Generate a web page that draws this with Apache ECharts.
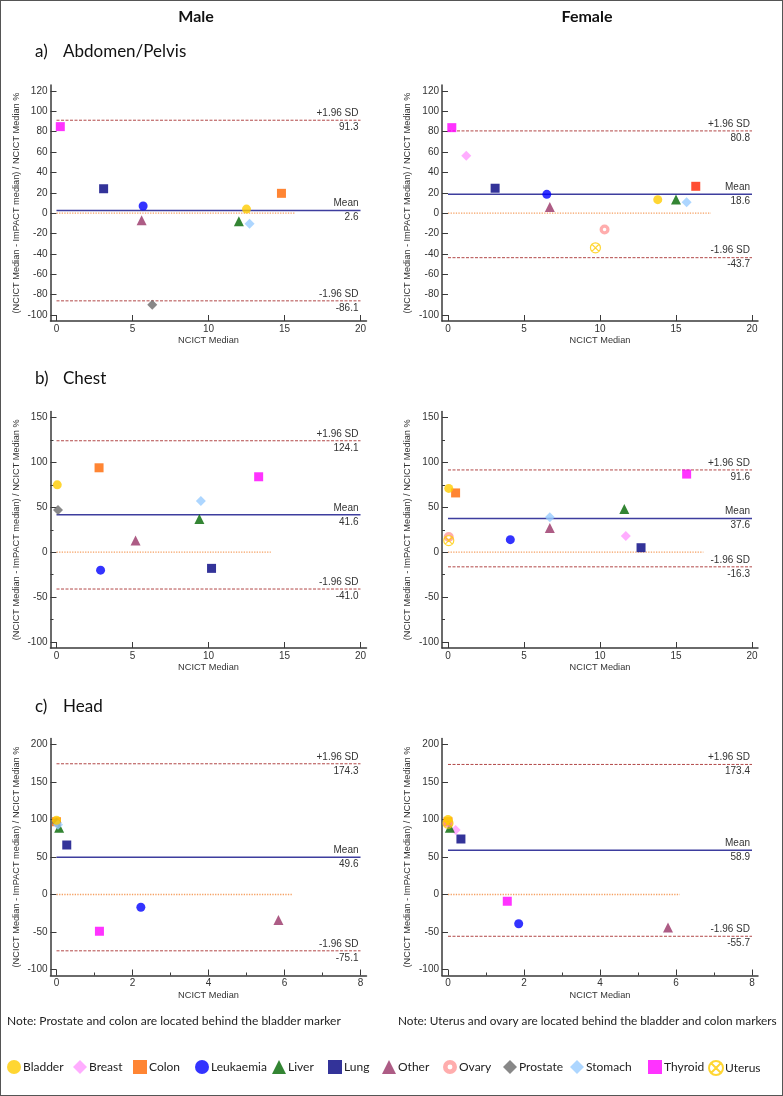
<!DOCTYPE html>
<html><head><meta charset="utf-8">
<script src="https://cdn.jsdelivr.net/npm/echarts@6/dist/echarts.min.js"></script>
<style>
html,body{margin:0;padding:0;background:#fff}
#wrap{position:relative;width:783px;height:1096px}
#c{position:absolute;left:0;top:0;width:783px;height:1096px}
#frame{position:absolute;left:0;top:0;width:783px;height:1096px;box-sizing:border-box;border:1px solid #555;pointer-events:none}
</style>
</head><body><div id="wrap"><div id="c"></div><div id="frame"></div></div>
<script>
// ---------- DATA ----------
const categories = ['Bladder','Breast','Colon','Leukaemia','Liver','Lung','Other','Ovary','Prostate','Stomach','Thyroid','Uterus'];

// Male Abdomen/Pelvis
const maleAbdX = [12.5, null, 14.8, 5.7, 12.0, 3.1, 5.6, null, 6.3, 12.7, 0.25, null];
const maleAbdY = [4, null, 19.5, 7, -8, 24, -7, null, -90, -10.5, 85, null];
// Female Abdomen/Pelvis
const femAbdX = [13.8, 1.2, 16.3, 6.5, 15.0, 3.1, 6.7, 10.3, null, 15.7, 0.25, 9.7];
const femAbdY = [13.3, 56.5, 26.4, 18.5, 13.5, 24.5, 6, -16, null, 10.7, 84, -34];
// Male Chest
const maleChestX = [0.05, null, 2.8, 2.9, 9.4, 10.2, 5.2, null, 0.1, 9.5, 13.3, null];
const maleChestY = [75, null, 94, -20, 37, -18, 13, null, 47, 57, 84, null];
// Female Chest
const femChestX = [0.05, 11.7, 0.5, 4.1, 11.6, 12.7, 6.7, 0.05, null, 6.7, 15.7, 0.05];
const femChestY = [71, 18, 66, 14, 48, 5, 27, 17, null, 39, 87, 13];
// Male Head
const maleHeadX = [0.0, null, 0.0, 2.22, 0.07, 0.27, 5.84, null, 0.0, 0.04, 1.13, null];
const maleHeadY = [99, null, 97, -17, 89, 66, -34, null, 96, 93, -49, null];
// Female Head
const femHeadX = [0.0, 0.2, 0.0, 1.86, 0.05, 0.34, 5.79, 0.0, null, null, 1.56, 0.0];
const femHeadY = [100, 86, 97, -39, 89, 74, -44, 96, null, null, -9, 95];

// Bland-Altman statistics per panel (male abd, female abd, male chest, female chest, male head, female head)
const upperSD  = [91.3, 80.8, 124.1, 91.6, 174.3, 173.4];
const meanDiff = [2.6, 18.6, 41.6, 37.6, 49.6, 58.9];
const lowerSD  = [-86.1, -43.7, -41.0, -16.3, -75.1, -55.7];
const zeroLineEnd = [15.7, 17.3, 14.1, 16.8, 6.2, 6.1];

// Axis ranges / ticks
const yMin = [-100, -100, -100, -100, -100, -100];
const yMax = [120, 120, 150, 150, 200, 200];
const yStep = [20, 20, 50, 50, 50, 50];
const xMax = [20, 20, 20, 20, 8, 8];
const xStep = [5, 5, 5, 5, 2, 2];

// ---------- STYLE / LAYOUT ----------
const panelX = [maleAbdX, femAbdX, maleChestX, femChestX, maleHeadX, femHeadX];
const panelY = [maleAbdY, femAbdY, maleChestY, femChestY, maleHeadY, femHeadY];
const yTitles = [
  '(NCICT Median - ImPACT median) / NCICT Median %',
  '(NCICT Median - ImPACT Median) / NCICT Median %',
  '(NCICT Median - ImPACT median) / NCICT Median %',
  '(NCICT Median - ImPACT Median) / NCICT Median %',
  '(NCICT Median - ImPACT median) / NCICT Median %',
  '(NCICT Median - ImPACT Median) / NCICT Median %'
];
const colLeft = [56.5, 448];
const plotW = 304;
const rowTop = [91, 417.5, 744.5];
const plotH = [224, 224.5, 225];
const OFF = 6;

const uterusPath = 'path://M0,10A10,10,0,1,1,20,10A10,10,0,1,1,0,10Z M2.93,2.93L17.07,17.07 M17.07,2.93L2.93,17.07';
const ovaryPath = 'path://M10,0A10,10,0,1,1,10,20A10,10,0,1,1,10,0Z M10,6.5A3.5,3.5,0,1,0,10,13.5A3.5,3.5,0,1,0,10,6.5Z';
const catColor = ['#FFCC00','#FF99FF','#FF6600','#0000FF','#006600','#000080','#993366','#FF9999','#6A6A6A','#99CCFF','#FF00FF','#FFCC00'];
const catSymbol = ['circle','diamond','rect','circle','triangle','rect','triangle',ovaryPath,'diamond','diamond','rect',uterusPath];
const catSize = [9, 10, 9, 9, 10, 9, 10, 10, 10, 10, 9, 10];
const colorOverride = {1: {2: '#FF2200'}};

const AXC = '#3a3a3a';
const FONT = 'Liberation Sans, Arial, sans-serif';
const CAL = 'Lato, "Open Sans", sans-serif';

const grids = [], xAxes = [], yAxes = [], series = [];

for (let p = 0; p < 6; p++) {
  const col = p % 2, row = Math.floor(p / 2);
  const L = colLeft[col], T = rowTop[row], H = plotH[row];
  // frame grid (axis lines only)
  grids.push({left: L - OFF, top: T - OFF, width: plotW + 2 * OFF, height: H + 2 * OFF, containLabel: false});
  xAxes.push({gridIndex: 2 * p, type: 'value', min: 0, max: 1, axisLine: {show: true, onZero: false, lineStyle: {color: AXC, width: 1.5}},
    axisTick: {show: false}, axisLabel: {show: false}, splitLine: {show: false}});
  yAxes.push({gridIndex: 2 * p, type: 'value', min: 0, max: 1, axisLine: {show: true, onZero: false, lineStyle: {color: AXC, width: 1.5}},
    axisTick: {show: false}, axisLabel: {show: false}, splitLine: {show: false}});
  // data grid
  grids.push({left: L, top: T, width: plotW, height: H, containLabel: false});
  const headX = xMax[p] === 8;
  const chestY = yStep[p] === 50 && yMax[p] === 150;
  const xi = 2 * p + 1;
  xAxes.push({gridIndex: xi, type: 'value', min: 0, max: xMax[p], interval: xStep[p], offset: OFF,
    axisLine: {show: false, onZero: false}, axisTick: {show: true, inside: true, length: 6, lineStyle: {color: AXC, width: 1}},
    minorTick: {show: headX, splitNumber: 2, length: 3, lineStyle: {color: AXC, width: 1}},
    axisLabel: {margin: 3, fontSize: 10, color: '#333', fontFamily: FONT},
    splitLine: {show: false},
    name: 'NCICT Median', nameLocation: 'middle', nameGap: 15,
    nameTextStyle: {fontSize: 9.2, color: '#333', fontFamily: FONT}});
  yAxes.push({gridIndex: xi, type: 'value', min: yMin[p], max: yMax[p], interval: yStep[p], offset: OFF,
    axisLine: {show: false, onZero: false}, axisTick: {show: true, inside: true, length: 6, lineStyle: {color: AXC, width: 1}},
    minorTick: {show: chestY, splitNumber: 2, length: 3, lineStyle: {color: AXC, width: 1}},
    axisLabel: {margin: 3, fontSize: 10, color: '#333', fontFamily: FONT},
    splitLine: {show: false},
    name: yTitles[p], nameLocation: 'middle', nameGap: 30, nameRotate: 90,
    nameTextStyle: {fontSize: 9.2, color: '#333', fontFamily: FONT}});

  const lbl = (pos, txt) => ({show: true, position: pos, distance: 2, fontSize: 10, color: '#333', fontFamily: FONT, formatter: txt});
  const hidden = () => ({color: 'rgba(255,255,255,0)', width: 0});
  const hLine = (v, x1, style, z) => ({
    type: 'line', xAxisIndex: xi, yAxisIndex: xi, z: z, silent: true, symbol: 'none',
    data: [[0, v], [x1, v]], lineStyle: style, itemStyle: {color: style.color}
  });
  // zero reference line
  series.push(hLine(0, zeroLineEnd[p], {color: '#F5A062', width: 1.3, type: [1.3, 1.3]}, 2));
  // limits of agreement and mean
  series.push(hLine(upperSD[p], xMax[p], {color: '#B24848', width: 1, type: [3, 1.5]}, 2));
  series.push(hLine(lowerSD[p], xMax[p], {color: '#B24848', width: 1, type: [3, 1.5]}, 2));
  series.push(hLine(meanDiff[p], xMax[p], {color: '#3D3D9E', width: 1.5, type: 'solid'}, 3));
  // labels for the lines
  series.push({
    type: 'scatter', xAxisIndex: xi, yAxisIndex: xi, data: [], silent: true,
    markLine: {
      silent: true, symbol: ['none', 'none'], animation: false,
      data: [
        {yAxis: upperSD[p], lineStyle: hidden(), label: lbl('insideEndTop', '+1.96 SD')},
        {yAxis: upperSD[p], lineStyle: hidden(), label: lbl('insideEndBottom', upperSD[p].toFixed(1))},
        {yAxis: meanDiff[p], lineStyle: hidden(), label: lbl('insideEndTop', 'Mean')},
        {yAxis: meanDiff[p], lineStyle: hidden(), label: lbl('insideEndBottom', meanDiff[p].toFixed(1))},
        {yAxis: lowerSD[p], lineStyle: hidden(), label: lbl('insideEndTop', '-1.96 SD')},
        {yAxis: lowerSD[p], lineStyle: hidden(), label: lbl('insideEndBottom', lowerSD[p].toFixed(1))}
      ]
    }
  });

  for (let c = 0; c < categories.length; c++) {
    const xv = panelX[p][c], yv = panelY[p][c];
    if (xv === null || yv === null) continue;
    let colr = catColor[c];
    if (colorOverride[p] && colorOverride[p][c]) colr = colorOverride[p][c];
    let itemStyle;
    if (c === 11) itemStyle = {color: 'rgba(255,255,255,0)', borderColor: colr, borderWidth: 1.2};
    else itemStyle = {color: colr};
    series.push({
      name: categories[c], type: 'scatter', xAxisIndex: xi, yAxisIndex: xi,
      z: c === 0 ? 6 : 5, symbol: catSymbol[c], symbolSize: catSize[c], itemStyle: itemStyle,
      data: [[xv, yv]]
    });
  }
}

// legend, one component per entry to match spacing
const legendLeft = [7, 73, 133, 195, 272, 328, 382, 443, 503, 570, 648, 708];
const legends = categories.map((name, i) => ({
  data: [name], left: legendLeft[i], top: 1060, orient: 'horizontal', padding: 0,
  itemWidth: 14, itemHeight: 14, itemGap: 0, selectedMode: false,
  textStyle: {fontSize: 12, color: '#222', fontFamily: CAL, padding: [0, 0, 0, -3]}
}));

const texts = [
  {type: 'text', x: 196, y: 17, style: {text: 'Male', font: 'bold 16px ' + CAL, fill: '#111', align: 'center', verticalAlign: 'middle'}},
  {type: 'text', x: 587, y: 17, style: {text: 'Female', font: 'bold 16px ' + CAL, fill: '#111', align: 'center', verticalAlign: 'middle'}},
  {type: 'text', x: 35, y: 52, style: {text: 'a)', font: '17px ' + CAL, fill: '#111', verticalAlign: 'middle'}},
  {type: 'text', x: 63, y: 52, style: {text: 'Abdomen/Pelvis', font: '17px ' + CAL, fill: '#111', verticalAlign: 'middle'}},
  {type: 'text', x: 35, y: 379, style: {text: 'b)', font: '17px ' + CAL, fill: '#111', verticalAlign: 'middle'}},
  {type: 'text', x: 63, y: 379, style: {text: 'Chest', font: '17px ' + CAL, fill: '#111', verticalAlign: 'middle'}},
  {type: 'text', x: 35, y: 707, style: {text: 'c)', font: '17px ' + CAL, fill: '#111', verticalAlign: 'middle'}},
  {type: 'text', x: 63, y: 707, style: {text: 'Head', font: '17px ' + CAL, fill: '#111', verticalAlign: 'middle'}},
  {type: 'text', x: 7, y: 1021, style: {text: 'Note: Prostate and colon are located behind the bladder marker', font: '12px ' + CAL, fill: '#222', verticalAlign: 'middle'}},
  {type: 'text', x: 398, y: 1021, style: {text: 'Note: Uterus and ovary are located behind the bladder and colon markers', font: '11.8px ' + CAL, fill: '#222', verticalAlign: 'middle'}}
];

const chart = echarts.init(document.getElementById('c'));
chart.setOption({
  animation: false,
  backgroundColor: '#fff',
  grid: grids, xAxis: xAxes, yAxis: yAxes, series: series,
  legend: legends,
  graphic: texts
});
</script>
</body></html>
